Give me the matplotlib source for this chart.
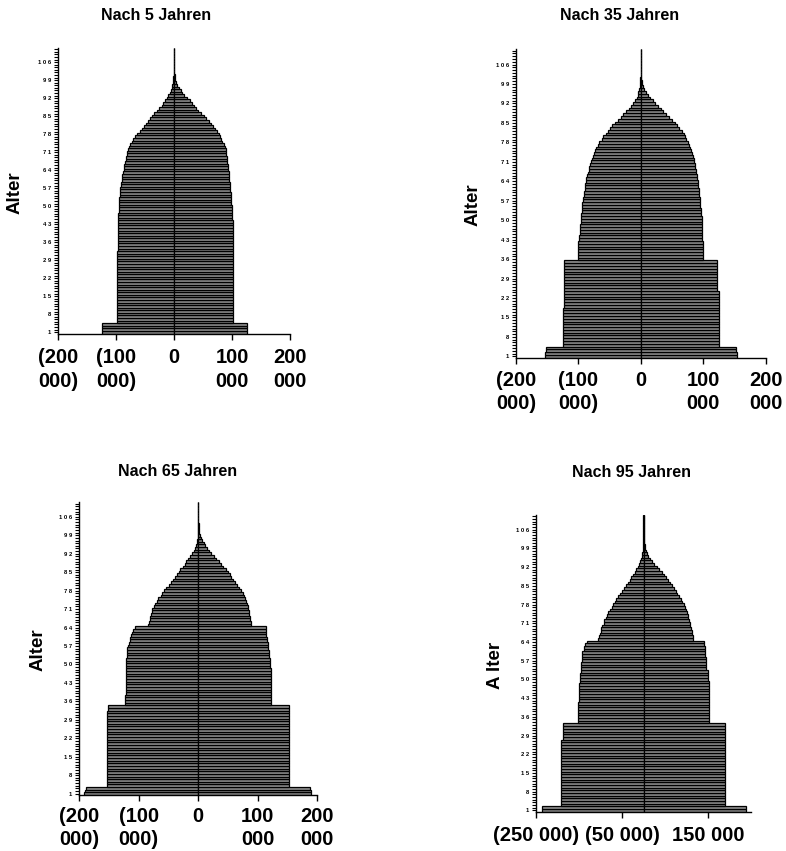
import matplotlib
matplotlib.use("Agg")
import matplotlib.pyplot as plt

plt.rcParams["font.family"] = ["Liberation Sans", "DejaVu Sans"]

# ages 1..111, values in thousands (left = men, right = women)
AGES = list(range(1, 112))
AGE_TICKS = [1, 8, 15, 22, 29, 36, 43, 50, 57, 64, 71, 78, 85, 92, 99, 106]

# Nach 5 Jahren
left_5 = ([124] * 4 + [99] * 28 + [97] * 8 + [96] * 7 +
          [95.5, 95.5, 95, 95, 94.5, 94, 93.5, 93, 93, 92.5, 92, 91] +
          [90.5, 90, 89, 88, 87, 86.5, 85.5, 84.5, 83.5, 82.5, 81.5, 80.5, 79, 77.5, 76] +
          [73, 70, 67, 63.5, 59, 55, 51.5, 48.5, 45, 42, 38, 34, 30, 26, 21.5] +
          [18.5, 15.5, 12.5, 10, 7.5, 5.5, 4, 3, 2.2, 1.6, 1.1, 0.8, 0.5, 0.4, 0.3] +
          [0.2, 0.2, 0.1, 0.1, 0.1, 0.1, 0.1])
right_5 = ([125] * 4 + [101] * 40 + [100] * 6 + [98] * 5 + [96.5] * 4 + [95] * 4 +
           [93.5] * 3 + [92] * 3 + [90.5] * 2 +
           [89, 87.5, 85.5, 83.5, 81.5, 79.5, 77.5, 74.5, 71, 67.5, 64, 60, 55.5, 51, 46.5] +
           [42, 38, 34, 30.5, 27, 22.5, 18, 14.5, 11.5, 8.5, 6, 4, 2.5, 1.8, 1.2] +
           [0.8, 0.5, 0.3, 0.2, 0.2, 0.2, 0.1, 0.1, 0.1, 0.1])

# Nach 35 Jahren
left_35 = ([154, 154, 152, 152] + [125] * 14 + [122.5] * 17 + [100] * 7 +
           [99, 98.5, 98, 97.5, 97, 97, 96.5, 96, 96, 95.5, 95, 94.5, 94, 93.5, 93] +
           [92, 91.5, 91, 90, 89.5, 89, 88, 87.5, 86.5, 85, 83.5, 82.5, 81, 80, 78.5] +
           [77, 75, 73, 71.5, 69, 66.5, 63, 60, 56.5, 53, 49.5, 46, 41.5, 37, 32.5] +
           [28, 24, 19.5, 15.5, 12, 9, 6.5, 5, 3.8, 2.8, 2.1, 1.5, 1, 0.7, 0.5] +
           [0.4, 0.3, 0.2, 0.2, 0.1, 0.1, 0.1, 0.1, 0.1])
right_35 = ([154, 154, 153, 153] + [124.5] * 20 + [122] * 11 + [99.5] * 7 + [98] * 8 +
            [97.5, 97, 96.5, 96, 95.5, 95, 94.5, 94, 93.5, 93, 92.5, 92, 91.5, 91, 90] +
            [89.5, 88.5, 88, 87, 86, 85, 84.5, 83, 81.5, 80.5, 79, 77, 75, 73, 70.5] +
            [68.5, 65.5, 61.5, 58, 54, 50, 45, 41, 36, 32, 28, 23, 19, 15, 11] +
            [8, 5.5, 3.8, 2.5, 1.5, 1, 0.6, 0.4, 0.3, 0.2, 0.2, 0.1, 0.1, 0.1, 0.1, 0.1])

# Nach 65 Jahren
left_65 = ([192, 190, 189] + [153] * 29 + [152] * 2 + [124] * 4 + [122] * 10 +
           [121] * 4 + [119] * 4 +
           [117.5, 116.5, 115.5, 114, 113, 111.5, 110, 107] +
           [84, 83, 82, 81, 80, 78.5, 77, 75, 73, 70, 67, 63.5, 60.5, 57.5, 54] +
           [50, 46.5, 43, 40, 36.5, 33, 30, 26.5, 23, 20, 16.5, 13.5, 10.5, 8, 6] +
           [4.5, 3, 2, 1.3, 1, 0.7, 0.5, 0.4, 0.3, 0.2, 0.2, 0.2, 0.1, 0.1, 0.1, 0.1, 0.1])
right_65 = ([190, 189, 188] + [152] * 31 + [122.5] * 6 + [121.5] * 8 + [120] * 4 +
            [118.5] * 3 + [117] * 3 + [116] * 2 + [114.5] * 2 + [113] * 2 +
            [89, 88, 87.5, 86.5, 86, 85, 84, 83, 82, 80, 78.5, 76.5, 74.5, 72, 69] +
            [65.5, 62, 58.5, 55.5, 52.5, 49.5, 46, 42, 38.5, 34, 30, 26, 22, 18.5, 15] +
            [12, 9, 6.5, 4.5, 3, 1.8, 1.2, 0.8, 0.5, 0.3, 0.2, 0.2, 0.2, 0.1, 0.1, 0.1, 0.1])

# Nach 95 Jahren
left_95 = ([237] * 2 + [191] * 25 + [187] * 6 + [152] * 8 + [150] * 7 + [148] * 4 +
           [146.5] * 4 + [144] * 2 + [142] * 2 + [139] * 2 + [135, 131] +
           [105.5, 104, 102, 100, 98, 95.5, 93, 91, 88, 85, 82, 78, 74, 70, 66.5] +
           [63, 59, 54, 49, 45, 41, 37, 32.5, 28, 24, 20, 16.5, 13, 10, 7.5] +
           [5, 3.5, 2.5, 1.7, 1.2, 0.8, 0.5, 0.4, 0.3, 0.2, 0.2, 0.2, 0.1, 0.1, 0.1, 0.1, 0.1])
right_95 = ([238] * 2 + [190] * 31 + [152.5] * 16 + [150] * 4 + [146.5] * 5 +
            [144] * 4 + [140.5] * 2 +
            [115.5, 114.5, 113, 112, 110.5, 109, 108, 106, 104.5, 103, 101.5, 99, 96.5, 94, 90.5] +
            [86.5, 82.5, 79, 75, 71, 66.5, 62, 57.5, 52.5, 48, 43, 37, 31, 25, 19.5] +
            [14.5, 11, 8.5, 6.5, 4.5, 3, 2, 1.3, 0.8, 0.5, 0.3, 0.2, 0.2, 0.1, 0.1, 0.1, 0.1])

TITLES = ["Nach 5 Jahren", "Nach 35 Jahren", "Nach 65 Jahren", "Nach 95 Jahren"]
YLABELS = ["Alter", "Alter", "Alter", "A lter"]

TICKS_A = [-200, -100, 0, 100, 200]
TICK_LABELS_A = ["(200\n000)", "(100\n000)", "0", "100\n000", "200\n000"]
TICKS_B = [-250, -50, 150]
TICK_LABELS_B = ["(250 000)", "(50 000)", "150 000"]

BAR_FACE = "#8a8a8a"

# pixel boxes of the axes, xlim, x label pad, title pos, ylabel pos
W, H = 786, 851
panels = [
    (left_5, right_5, (58, 48, 290, 333.5), (-200, 200), TICKS_A, TICK_LABELS_A, 6.5, (156, 15), (15, 193)),
    (left_35, right_35, (516, 49.3, 765.7, 357.7), (-200, 200), TICKS_A, TICK_LABELS_A, 5.5, (620, 16), (473, 205)),
    (left_65, right_65, (79.3, 502.3, 317.3, 795), (-200, 200), TICKS_A, TICK_LABELS_A, 4.5, (178, 471), (38, 650)),
    (left_95, right_95, (536, 515, 751, 811.7), (-250, 250), TICKS_B, TICK_LABELS_B, 6.0, (632, 472), (495, 665)),
]

fig = plt.figure(figsize=(W / 100, H / 100), dpi=100)

for i, (left, right, box, xlim, ticks, tlabels, xpad, tpos, ypos) in enumerate(panels):
    x0, y0, x1, y1 = box
    ax = fig.add_axes([x0 / W, 1 - y1 / H, (x1 - x0) / W, (y1 - y0) / H])
    ax.barh(AGES, [-v for v in left], height=1.0, color=BAR_FACE,
            edgecolor="black", linewidth=0.9)
    ax.barh(AGES, right, height=1.0, color=BAR_FACE,
            edgecolor="black", linewidth=0.9)
    ax.set_xlim(xlim)
    ax.set_ylim(0.5, 111.5)
    ax.spines[["top", "right"]].set_visible(False)
    ax.spines["left"].set_linewidth(1.0)
    ax.spines["bottom"].set_linewidth(1.0)

    ax.set_xticks(ticks, tlabels, fontsize=14.5, fontweight="bold", linespacing=1.3)
    ax.set_yticks(AGE_TICKS, [" ".join(str(a)) for a in AGE_TICKS],
                  fontsize=4.2, fontweight="bold")
    ax.set_yticks(AGES, minor=True)
    ax.tick_params(axis="y", which="both", length=3, width=0.8, pad=2)
    ax.tick_params(axis="x", length=4, width=1, pad=xpad)

    fig.text(tpos[0] / W, 1 - tpos[1] / H, TITLES[i], ha="center", va="center",
             fontsize=11.5, fontweight="bold")
    fig.text(ypos[0] / W, 1 - ypos[1] / H, YLABELS[i], ha="center", va="center",
             rotation=90, fontsize=13.5, fontweight="bold")

fig.savefig("out.png", dpi=100)
